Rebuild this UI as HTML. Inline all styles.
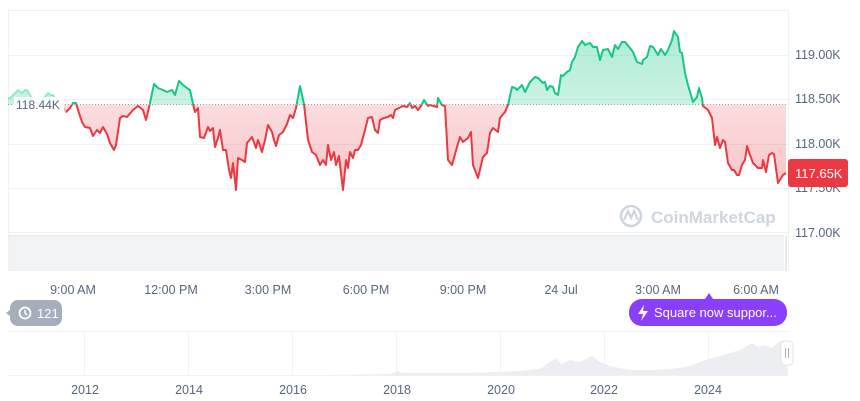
<!DOCTYPE html>
<html><head><meta charset="utf-8"><style>
html,body{margin:0;padding:0;background:#fff;width:860px;height:401px;overflow:hidden;font-family:"Liberation Sans",sans-serif;}
</style></head><body>
<svg width="860" height="401" viewBox="0 0 860 401" xmlns="http://www.w3.org/2000/svg" font-family="Liberation Sans, sans-serif">
<defs>
<linearGradient id="gg" x1="0" y1="0" x2="0" y2="1"><stop offset="0" stop-color="#16c784" stop-opacity="0.35"/><stop offset="1" stop-color="#16c784" stop-opacity="0.08"/></linearGradient>
<linearGradient id="rg" x1="0" y1="1" x2="0" y2="0"><stop offset="0" stop-color="#ea3943" stop-opacity="0.3"/><stop offset="1" stop-color="#ea3943" stop-opacity="0.06"/></linearGradient>
<clipPath id="up"><rect x="0" y="0" width="788" height="104.5"/></clipPath>
<clipPath id="dn"><rect x="0" y="104.5" width="788" height="200"/></clipPath>
<clipPath id="fade"><rect x="0" y="0" width="66" height="300"/></clipPath>
<clipPath id="main"><rect x="66" y="0" width="722" height="300"/></clipPath>
</defs>
<g stroke="#eff2f5" stroke-width="1">
<line x1="8" y1="10.5" x2="788" y2="10.5"/>
<line x1="8" y1="55.5" x2="788" y2="55.5"/>
<line x1="8" y1="99.5" x2="788" y2="99.5"/>
<line x1="8" y1="144.5" x2="788" y2="144.5"/>
<line x1="8" y1="188.5" x2="788" y2="188.5"/>
<line x1="8" y1="232.5" x2="788" y2="232.5"/>
<line x1="8.5" y1="10" x2="8.5" y2="271"/>
<line x1="788.5" y1="10" x2="788.5" y2="271"/>
</g>
<rect x="9" y="235" width="775" height="36" fill="#f2f3f5"/>
<rect x="9" y="235" width="775" height="1.5" fill="#e9ebee"/>
<rect x="785" y="236" width="2" height="35" fill="#e6e8eb"/>
<circle cx="631" cy="216" r="10" fill="none" stroke="#cfd5de" stroke-width="2.5"/>
<path d="M624 220 L628 211 L631 218 L634 211 L638 220" fill="none" stroke="#cfd5de" stroke-width="2.2"/>
<text x="651" y="223" font-size="17" font-weight="bold" fill="#cfd5de">CoinMarketCap</text>
<g id="series"></g>
<script>
var pts=[[8,98],[10,98],[14,94],[18,90],[22,93],[25,90],[27,90],[30,95],[33,100],[38,103],[43,99],[48,93],[51,95],[53,95],[58,103],[62,106],[66,112],[68,110],[70,108],[73,103],[76,103],[78,110],[82,122],[85,127],[90,128],[93,136],[97,130],[100,133],[103,127],[107,134],[110,143],[114,150],[116,145],[120,118],[123,116],[127,117],[133,110],[138,106],[143,110],[146,120],[150,103],[154,84],[158,88],[163,90],[167,92],[172,90],[175,95],[179,81],[183,85],[187,88],[190,90],[193,104],[195,112],[198,108],[200,137],[204,138],[208,127],[210,131],[213,128],[215,147],[218,138],[220,130],[223,150],[226,150],[229,170],[231,178],[233,163],[236,190],[238,158],[242,160],[245,162],[247,143],[252,137],[256,148],[258,140],[262,152],[265,140],[268,125],[272,132],[274,140],[276,146],[279,135],[283,132],[287,124],[290,115],[293,118],[296,108],[300,86],[304,104],[308,140],[312,152],[316,155],[320,165],[323,160],[326,165],[328,145],[331,160],[334,152],[336,165],[339,156],[343,190],[346,160],[348,168],[350,152],[353,158],[355,150],[358,150],[361,145],[365,130],[368,118],[372,117],[375,130],[378,133],[380,120],[384,118],[388,117],[391,115],[393,118],[395,110],[399,108],[403,106],[407,107],[410,103],[412,108],[415,106],[418,110],[421,106],[424,100],[428,106],[430,105],[437,107],[438,98],[442,105],[445,106],[448,160],[452,165],[457,147],[460,137],[463,142],[468,138],[471,132],[473,165],[478,178],[483,157],[487,153],[490,133],[493,128],[498,132],[500,118],[505,112],[508,105],[512,87],[515,88],[517,90],[522,85],[525,92],[530,82],[535,77],[538,78],[543,83],[545,82],[547,90],[550,86],[553,87],[555,93],[558,95],[561,75],[563,76],[567,72],[570,70],[572,62],[575,57],[578,47],[582,41],[585,45],[590,43],[593,47],[597,47],[600,60],[603,50],[608,49],[612,57],[615,45],[618,49],[622,42],[625,42],[630,48],[633,52],[637,62],[642,64],[643,60],[647,57],[650,46],[653,47],[658,55],[661,49],[665,55],[668,50],[672,40],[674,31],[678,37],[680,52],[682,53],[685,73],[688,85],[693,102],[697,97],[699,88],[702,98],[703,106],[708,110],[712,118],[715,145],[717,137],[720,148],[723,140],[725,142],[728,163],[732,170],[734,170],[737,175],[739,175],[742,165],[745,160],[747,146],[750,155],[753,163],[758,168],[762,168],[763,160],[766,172],[769,155],[772,153],[774,154],[778,183],[783,175],[786,173]];
var line="M"+pts.map(function(p){return p[0]+","+p[1]}).join(" L");
var area=line+" L786,104.5 L8,104.5 Z";
var ns="http://www.w3.org/2000/svg",g=document.getElementById("series");
function mk(d,attrs){var e=document.createElementNS(ns,"path");e.setAttribute("d",d);for(var k in attrs)e.setAttribute(k,attrs[k]);g.appendChild(e);return e;}
mk(area,{fill:"url(#gg)","clip-path":"url(#up)"});
mk(area,{fill:"url(#rg)","clip-path":"url(#dn)"});
function ln(clip,color){var e=document.createElementNS(ns,"g");e.setAttribute("clip-path","url(#"+clip+")");var p=document.createElementNS(ns,"path");p.setAttribute("d",line);p.setAttribute("fill","none");p.setAttribute("stroke",color);p.setAttribute("stroke-width","2");p.setAttribute("stroke-linejoin","round");e.appendChild(p);return e;}
var f=document.createElementNS(ns,"g");f.setAttribute("clip-path","url(#fade)");f.setAttribute("opacity","0.35");f.appendChild(ln("up","#16c784"));f.appendChild(ln("dn","#ea3943"));g.appendChild(f);
var m=document.createElementNS(ns,"g");m.setAttribute("clip-path","url(#main)");m.appendChild(ln("up","#16c784"));m.appendChild(ln("dn","#ea3943"));g.appendChild(m);
</script>
<line x1="8" y1="104.5" x2="788" y2="104.5" stroke="#9aa1ab" stroke-width="1" stroke-dasharray="1,2"/>
<rect x="14" y="97" width="50" height="15" fill="#fff" opacity="0.85"/>
<text x="16" y="109" font-size="12" fill="#58667e">118.44K</text>
<g font-size="12.5" fill="#58667e">
<text x="795" y="59">119.00K</text>
<text x="795" y="103">118.50K</text>
<text x="795" y="148">118.00K</text>
<text x="795" y="192">117.50K</text>
<text x="795" y="237">117.00K</text>
</g>
<rect x="788" y="159" width="60" height="28" rx="3" fill="#ea3943"/>
<text x="795" y="178" font-size="13" fill="#fff">117.65K</text>
<g font-size="12.5" fill="#58667e" text-anchor="middle">
<text x="73" y="294">9:00 AM</text>
<text x="171" y="294">12:00 PM</text>
<text x="268" y="294">3:00 PM</text>
<text x="366" y="294">6:00 PM</text>
<text x="463" y="294">9:00 PM</text>
<text x="561" y="294">24 Jul</text>
<text x="658" y="294">3:00 AM</text>
<text x="756" y="294">6:00 AM</text>
</g>
<path d="M18 300 H54 a8 8 0 0 1 8 8 V318 a8 8 0 0 1 -8 8 H18 a8 8 0 0 1 -8 -8 V316 L6 313 L10 310 V308 a8 8 0 0 1 8 -8 Z" fill="#a6aebb"/>
<circle cx="25" cy="313" r="5.5" fill="none" stroke="#fff" stroke-width="1.8"/>
<path d="M25 310 V313 L27 315" fill="none" stroke="#fff" stroke-width="1.5"/>
<text x="37" y="318" font-size="13" fill="#fff">121</text>
<path d="M705 299 L709 293 L713 299 Z" fill="#8a3ffc"/>
<rect x="629" y="299" width="158" height="27" rx="13" fill="#8a3ffc"/>
<path d="M644 305 L638 314 H643 L641 321 L648 311 H643 Z" fill="#fff"/>
<text x="654" y="317" font-size="13" fill="#fff">Square now suppor...</text>
<line x1="8" y1="331.5" x2="788" y2="331.5" stroke="#eff2f5"/>
<g stroke="#f1f3f5">
<line x1="84.5" y1="332" x2="84.5" y2="375"/><line x1="188.5" y1="332" x2="188.5" y2="375"/><line x1="292.5" y1="332" x2="292.5" y2="375"/><line x1="396.5" y1="332" x2="396.5" y2="375"/><line x1="500.5" y1="332" x2="500.5" y2="375"/><line x1="604.5" y1="332" x2="604.5" y2="375"/><line x1="708.5" y1="332" x2="708.5" y2="375"/>
</g>
<path d="M8 375 L330 375 L390 374 L398 371 L402 373 L470 373 L520 371 L540 369 L550 362 L556 358 L562 364 L570 360 L580 362 L592 356 L600 362 L610 366 L630 370 L650 370 L670 369 L690 366 L705 360 L720 356 L740 350 L752 343 L758 347 L765 345 L772 348 L778 342 L785 340 L788 375 Z" fill="#eceef1"/>
<line x1="8" y1="375.5" x2="788" y2="375.5" stroke="#eff2f5"/>
<rect x="781" y="341" width="12" height="24" rx="4" fill="#fff" stroke="#dfe3e8"/>
<line x1="785.5" y1="348" x2="785.5" y2="358" stroke="#a6aebb"/><line x1="788.5" y1="348" x2="788.5" y2="358" stroke="#a6aebb"/>
<g font-size="12.5" fill="#58667e" text-anchor="middle">
<text x="85" y="394">2012</text><text x="189" y="394">2014</text><text x="293" y="394">2016</text><text x="397" y="394">2018</text><text x="501" y="394">2020</text><text x="604" y="394">2022</text><text x="708" y="394">2024</text>
</g>
</svg>
</body></html>
